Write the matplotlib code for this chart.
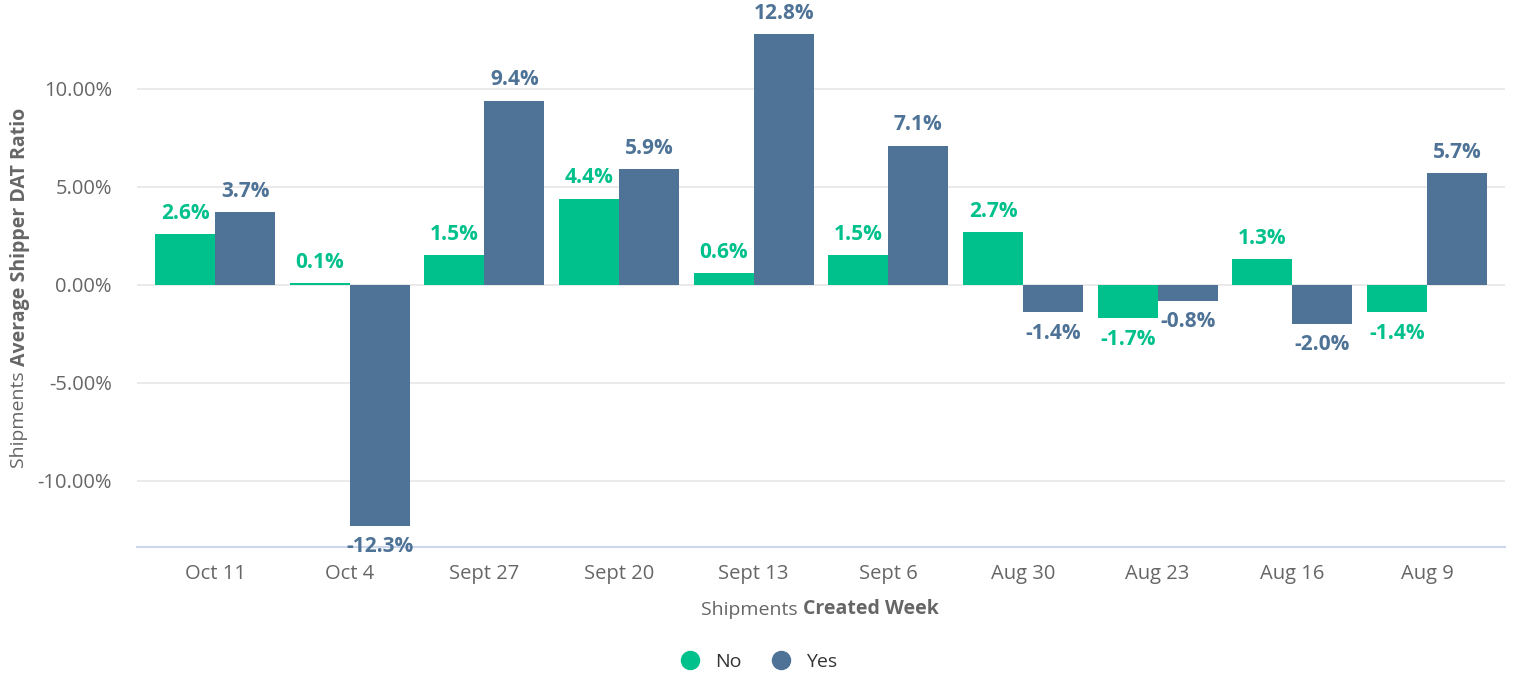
import matplotlib.pyplot as plt
import numpy as np

plt.rcParams['font.family'] = ['Open Sans', 'DejaVu Sans']

weeks = ['Oct 11', 'Oct 4', 'Sept 27', 'Sept 20', 'Sept 13', 'Sept 6',
         'Aug 30', 'Aug 23', 'Aug 16', 'Aug 9']
no_vals = [2.6, 0.1, 1.5, 4.4, 0.6, 1.5, 2.7, -1.7, 1.3, -1.4]
yes_vals = [3.7, -12.3, 9.4, 5.9, 12.8, 7.1, -1.4, -0.8, -2.0, 5.7]
yticks = [-10, -5, 0, 5, 10]

green = '#00c08b'
blue = '#4e7396'
grey = '#666666'

fig = plt.figure(figsize=(15.14, 6.76), dpi=100)
ax = fig.add_axes([137 / 1514, 129 / 676, 1368 / 1514, 517 / 676])

x = np.arange(len(weeks))
w = 0.445
b1 = ax.bar(x - w / 2, no_vals, w, color=green, label='No', zorder=3)
b2 = ax.bar(x + w / 2, yes_vals, w, color=blue, label='Yes', zorder=3)

# data labels above positive bars, below negative ones
for bars, vals, c in [(b1, no_vals, green), (b2, yes_vals, blue)]:
    for rect, v in zip(bars, vals):
        cx = rect.get_x() + rect.get_width() / 2
        off = 15 if v >= 0 else -15
        ax.annotate(f'{v:.1f}%', (cx, v), xytext=(0, off), textcoords='offset points',
                    ha='center', va='center', color=c, fontsize=15,
                    fontweight='bold', zorder=4)

ax.set_xlim(-0.58, len(weeks) - 0.42)
ax.set_ylim(-13.37, 13.0)
ax.set_yticks(yticks)
ax.set_yticklabels([f'{t:.2f}%' for t in yticks])
ax.set_xticks(x)
ax.set_xticklabels(weeks)
ax.tick_params(axis='both', length=0, colors=grey, labelsize=14.5)
ax.tick_params(axis='y', pad=18)
ax.tick_params(axis='x', pad=12)
ax.grid(axis='y', color='#e6e6e6', linewidth=1.2, zorder=0)
for s in ['top', 'right', 'left']:
    ax.spines[s].set_visible(False)
ax.spines['bottom'].set_color('#ccd6eb')
ax.spines['bottom'].set_linewidth(1.5)

# axis titles with mixed weights
tx1 = fig.text(0.5, 66 / 676, 'Shipments ', color=grey, fontsize=14, ha='left', va='center')
tx2 = ax.annotate('Created Week', xy=(1, 0), xycoords=tx1, ha='left', va='bottom',
                  color=grey, fontsize=14, fontweight='bold')
ty1 = fig.text(19 / 1514, 0.5, 'Shipments ', color=grey, fontsize=14, rotation=90,
               ha='center', va='bottom')
ty2 = ax.annotate('Average Shipper DAT Ratio', xy=(0, 1), xycoords=ty1, ha='left',
                  va='bottom', rotation=90, color=grey, fontsize=14, fontweight='bold')

fig.canvas.draw()
r = fig.canvas.get_renderer()
wx = tx1.get_window_extent(r).width + tx2.get_window_extent(r).width
tx1.set_x((820 - wx / 2) / 1514)
hy = ty1.get_window_extent(r).height + ty2.get_window_extent(r).height
ty1.set_y((676 - 288 - hy / 2) / 676)

fig.legend(handles=[
    plt.Line2D([], [], marker='o', ls='', color=green, markersize=13, label='No'),
    plt.Line2D([], [], marker='o', ls='', color=blue, markersize=13, label='Yes')],
    loc='center', bbox_to_anchor=(754 / 1514, 1 - 662 / 676), ncol=2, frameon=False,
    fontsize=14, labelcolor='#333333', handletextpad=0.3, columnspacing=1.0)

fig.savefig('out.png', dpi=100)
